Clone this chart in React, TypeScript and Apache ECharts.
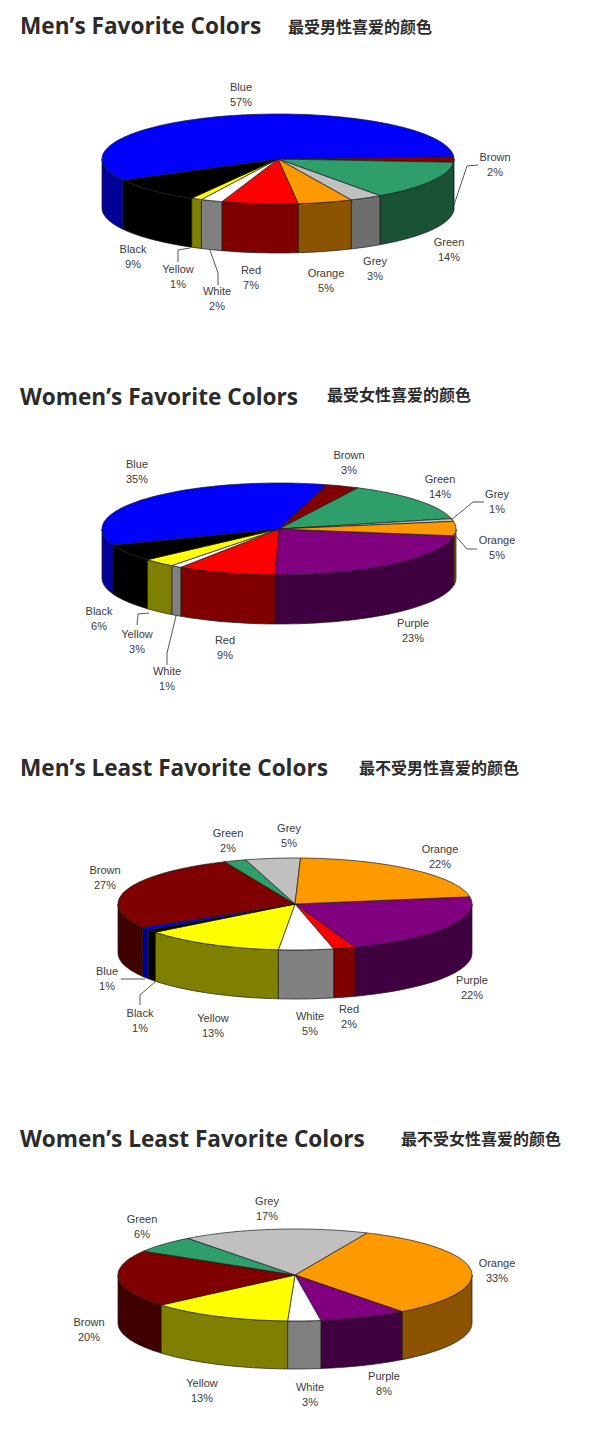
import React, { useEffect, useRef } from "react";
import * as echarts from "echarts";

// ---- data (clockwise, starting at each pie's first slice)
const menFavCategories = ["Brown", "Green", "Grey", "Orange", "Red", "White", "Yellow", "Black", "Blue"];
const menFavValues = [2, 14, 3, 5, 7, 2, 1, 9, 57];
const womenFavCategories = ["Purple", "Red", "White", "Yellow", "Black", "Blue", "Brown", "Green", "Grey", "Orange"];
const womenFavValues = [23, 9, 1, 3, 6, 35, 3, 14, 1, 5];
const menLeastCategories = ["Purple", "Red", "White", "Yellow", "Black", "Blue", "Brown", "Green", "Grey", "Orange"];
const menLeastValues = [22, 2, 5, 13, 1, 1, 27, 2, 5, 22];
const womenLeastCategories = ["Orange", "Purple", "White", "Yellow", "Brown", "Green", "Grey"];
const womenLeastValues = [33, 8, 3, 13, 20, 6, 17];

const titles = ["Men’s Favorite Colors", "Women’s Favorite Colors", "Men’s Least Favorite Colors", "Women’s Least Favorite Colors"];
const subtitles = ["最受男性喜爱的颜色", "最受女性喜爱的颜色", "最不受男性喜爱的颜色", "最不受女性喜爱的颜色"];

// ---- styles
const topColors: Record<string, string> = {
  Blue: "#0000ff", Brown: "#800000", Green: "#2e9e6b", Grey: "#c0c0c0", Orange: "#ff9900",
  Red: "#ff0000", White: "#ffffff", Yellow: "#ffff00", Black: "#000000", Purple: "#800080",
};
const sideColors: Record<string, string> = {
  Blue: "#000099", Brown: "#400000", Green: "#1a5236", Grey: "#6e6e6e", Orange: "#8c5400",
  Red: "#800000", White: "#808080", Yellow: "#808000", Black: "#000000", Purple: "#400040",
};

// ---- layout
const titleLayout = [
  { y: 25, subX: 288, subY: 26 },
  { y: 396, subX: 327, subY: 394 },
  { y: 767, subX: 359, subY: 767 },
  { y: 1138, subX: 401, subY: 1138 },
];
const pieGeometry = [
  { cx: 278, cy: 159, rx: 176, ry: 45, depth: 49, start: -3 },
  { cx: 279, cy: 529, rx: 177, ry: 46, depth: 49, start: 8.5 },
  { cx: 295, cy: 904, rx: 177, ry: 46, depth: 49, start: -9 },
  { cx: 295, cy: 1275, rx: 177, ry: 46, depth: 48, start: -66 },
];
const menFavLabelPos: Record<string, number[]> = {
  Blue: [241, 94], Brown: [495, 164], Green: [449, 249], Grey: [375, 268], Orange: [326, 280],
  Red: [251, 277], White: [217, 298], Yellow: [178, 276], Black: [133, 256],
};
const womenFavLabelPos: Record<string, number[]> = {
  Blue: [137, 471], Brown: [349, 462], Green: [440, 486], Grey: [497, 501], Orange: [497, 547],
  Purple: [413, 630], Red: [225, 647], White: [167, 678], Yellow: [137, 641], Black: [99, 618],
};
const menLeastLabelPos: Record<string, number[]> = {
  Green: [228, 840], Grey: [289, 835], Orange: [440, 856], Brown: [105, 877], Purple: [472, 987],
  Red: [349, 1016], White: [310, 1023], Yellow: [213, 1025], Black: [140, 1020], Blue: [107, 978],
};
const womenLeastLabelPos: Record<string, number[]> = {
  Grey: [267, 1208], Green: [142, 1226], Orange: [497, 1270], Brown: [89, 1329],
  Yellow: [202, 1390], White: [310, 1394], Purple: [384, 1383],
};
const menFavLeaders: Record<string, number[][]> = {
  Brown: [[453, 208], [467, 166], [478, 165]],
  Yellow: [[190, 248], [178, 250], [178, 262]],
  White: [[210, 250], [218, 273], [218, 285]],
};
const womenFavLeaders: Record<string, number[][]> = {
  Grey: [[451, 520], [473, 502], [484, 502]],
  Orange: [[453, 533], [467, 549], [477, 549]],
  Yellow: [[149, 613], [138, 614], [137, 625]],
  White: [[176, 616], [167, 653], [167, 665]],
};
const menLeastLeaders: Record<string, number[][]> = {
  Blue: [[145, 979], [121, 979]],
  Black: [[155, 982], [140, 995], [140, 1005]],
};

const pies = [
  { names: menFavCategories, values: menFavValues, labels: menFavLabelPos, leaders: menFavLeaders },
  { names: womenFavCategories, values: womenFavValues, labels: womenFavLabelPos, leaders: womenFavLeaders },
  { names: menLeastCategories, values: menLeastValues, labels: menLeastLabelPos, leaders: menLeastLeaders },
  { names: womenLeastCategories, values: womenLeastValues, labels: womenLeastLabelPos, leaders: {} as Record<string, number[][]> },
];

const TEXT_FONT = "'Liberation Sans', Arial, sans-serif";
const OUTLINE = "#1a1a1a";

function arc(g: any, from: number, to: number, dy: number) {
  const pts: number[][] = [];
  const steps = Math.max(2, Math.ceil(Math.abs(to - from) / 2));
  for (let i = 0; i <= steps; i++) {
    const a = ((from + ((to - from) * i) / steps) * Math.PI) / 180;
    pts.push([g.cx + g.rx * Math.cos(a), g.cy + g.ry * Math.sin(a) + dy]);
  }
  return pts;
}

function pieSeries(pieIndex: number) {
  const pie = pies[pieIndex];
  const g = pieGeometry[pieIndex];
  const total = pie.values.reduce((s, v) => s + v, 0);
  return {
    type: "custom",
    coordinateSystem: "none",
    silent: true,
    data: pie.names.map((name, i) => ({ name, value: [pie.values[i]] })),
    renderItem(params: any, api: any) {
      const i = params.dataIndex;
      const name = pie.names[i];
      const value = api.value(0);
      let sumBefore = 0;
      for (let k = 0; k < i; k++) sumBefore += pie.values[k];
      const a0 = g.start + (sumBefore / total) * 360;
      const a1 = a0 + (value / total) * 360;
      const children: any[] = [];
      // visible front wall
      for (const k of [-1, 0, 1]) {
        const lo = Math.max(a0, 360 * k);
        const hi = Math.min(a1, 360 * k + 180);
        if (hi > lo) {
          const points = [...arc(g, lo, hi, 0), ...arc(g, hi, lo, g.depth)];
          children.push({
            type: "polygon",
            shape: { points },
            style: { fill: sideColors[name], stroke: OUTLINE, lineWidth: 0.7 },
          });
        }
      }
      // top face
      children.push({
        type: "polygon",
        shape: { points: [[g.cx, g.cy], ...arc(g, a0, a1, 0)] },
        style: { fill: topColors[name], stroke: OUTLINE, lineWidth: 0.7 },
      });
      // leader line
      const leader = pie.leaders[name];
      if (leader) {
        children.push({
          type: "polyline",
          shape: { points: leader },
          style: { fill: "none", stroke: "#444444", lineWidth: 0.9 },
        });
      }
      // label
      const pos = pie.labels[name];
      children.push({
        type: "text",
        style: {
          text: `${name}\n${value}%`,
          x: pos[0],
          y: pos[1],
          textAlign: "center",
          textVerticalAlign: "middle",
          fontFamily: TEXT_FONT,
          fontSize: 11,
          lineHeight: 15,
          fill: "#3a3a3a",
        },
      });
      return { type: "group", children };
    },
  };
}

export default function App() {
  const ref = useRef<HTMLDivElement>(null);
  useEffect(() => {
    document.body.style.margin = "0";
    const chart = echarts.init(ref.current!, null, { renderer: "svg" });
    const titleOpts: any[] = [];
    titles.forEach((t, i) => {
      titleOpts.push({
        text: t,
        left: 20,
        top: titleLayout[i].y - 16,
        padding: 0,
        textStyle: { fontFamily: "'Open Sans', sans-serif", fontWeight: "bold", fontSize: 22.6, color: "#2b2b2b", lineHeight: 32 },
      });
      titleOpts.push({
        text: subtitles[i],
        left: titleLayout[i].subX,
        top: titleLayout[i].subY - 11,
        padding: 0,
        textStyle: { fontFamily: "'Noto Sans CJK SC', sans-serif", fontWeight: "bold", fontSize: 16, color: "#2b2b2b", lineHeight: 22 },
      });
    });
    chart.setOption({
      animation: false,
      backgroundColor: "#ffffff",
      title: titleOpts,
      series: pies.map((_, i) => pieSeries(i)),
    });
    return () => chart.dispose();
  }, []);
  return <div ref={ref} style={{ position: "absolute", left: 0, top: 0, width: 600, height: 1446 }} />;
}
